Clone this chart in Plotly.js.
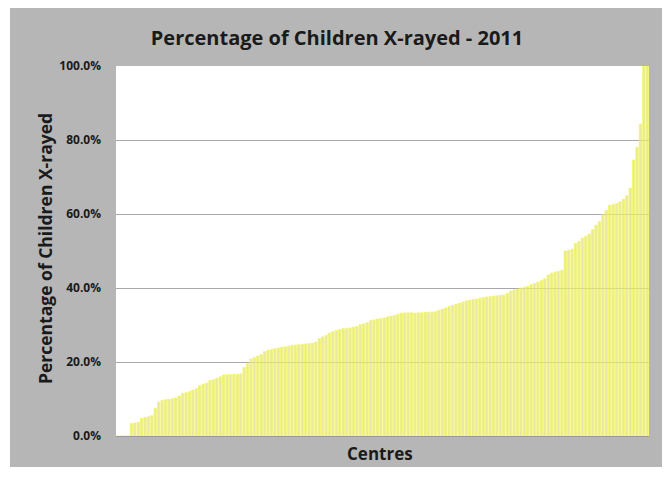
<!DOCTYPE html>
<html>
<head>
<meta charset="utf-8">
<script src="https://cdn.plot.ly/plotly-3.0.1.min.js"></script>
<style>html,body{margin:0;padding:0;background:#fff;}#chart{width:670px;height:483px;}</style>
</head>
<body>
<div id="chart"></div>
<script>
// Percentage of children X-rayed per centre, sorted ascending
const percentValues = [
  0, 0, 0, 0, 3.4, 3.5, 3.7, 4.8, 5.0, 5.2,
  5.5, 7.5, 9.2, 9.6, 9.8, 9.9, 10.1, 10.3, 10.8, 11.5,
  11.7, 12.0, 12.4, 12.8, 13.6, 14.0, 14.3, 15.0, 15.2, 15.6,
  16.0, 16.5, 16.6, 16.6, 16.7, 16.7, 16.8, 18.5, 19.5, 20.8,
  21.2, 21.6, 22.0, 22.8, 23.2, 23.4, 23.6, 23.8, 24.0, 24.1,
  24.3, 24.5, 24.6, 24.7, 24.8, 24.9, 25.0, 25.1, 25.4, 26.3,
  26.8, 27.2, 27.8, 28.2, 28.5, 28.8, 29.0, 29.1, 29.2, 29.4,
  29.6, 30.1, 30.3, 30.6, 31.2, 31.4, 31.6, 31.7, 31.9, 32.2,
  32.4, 32.6, 32.9, 33.2, 33.3, 33.3, 33.3, 33.2, 33.3, 33.3,
  33.4, 33.5, 33.5, 33.6, 34.0, 34.3, 34.6, 35.0, 35.3, 35.6,
  35.9, 36.2, 36.5, 36.7, 36.9, 37.0, 37.2, 37.4, 37.6, 37.7,
  37.8, 37.9, 38.0, 38.1, 38.5, 39.2, 39.5, 39.7, 40.0, 40.2,
  40.5, 40.9, 41.2, 41.6, 42.0, 42.5, 43.5, 44.0, 44.3, 44.5,
  44.8, 50.0, 50.2, 50.5, 52.0, 52.6, 53.5, 54.0, 54.6, 55.8,
  57.0, 58.0, 59.8, 61.0, 62.4, 62.6, 62.8, 63.3, 64.0, 65.0,
  67.0, 74.6, 78.0, 84.3, 100.0, 100.0
];
const centres = percentValues.map((v, i) => 'Centre ' + (i + 1));
const yTickValues = [0, 20, 40, 60, 80, 100];
const yTickLabels = ['0.0%', '20.0%', '40.0%', '60.0%', '80.0%', '100.0%'];

const chartTitle = 'Percentage of Children X-rayed - 2011';
const yTitle = 'Percentage of Children X-rayed';
const xTitle = 'Centres';

const W = 670, H = 483;
const plotL = 116, plotR = 649, plotT = 66, plotB = 436;
const pw = plotR - plotL, ph = plotB - plotT;
const px = x => (x - plotL) / pw;
const py = y => (plotB - y) / ph;

const trace = {
  type: 'bar',
  x: centres,
  y: percentValues,
  marker: {color: 'rgba(224,228,140,0.78)', line: {color: 'rgba(246,246,80,0.95)', width: 0.7}},
  hoverinfo: 'x+y'
};

const layout = {
  width: W, height: H,
  margin: {l: plotL, r: W - plotR, t: plotT, b: H - plotB, pad: 0},
  paper_bgcolor: '#ffffff',
  plot_bgcolor: '#ffffff',
  showlegend: false,
  bargap: 0.3,
  font: {family: 'Open Sans, sans-serif', color: '#1a1a1a'},
  title: {
    text: '<b>' + chartTitle + '</b>',
    xref: 'container', yref: 'container',
    x: 337 / W, y: 1 - 38 / H, xanchor: 'center', yanchor: 'middle',
    font: {family: 'Open Sans, sans-serif', size: 20, color: '#1a1a1a'}
  },
  xaxis: {
    showticklabels: false, ticks: '', showgrid: false, zeroline: false,
    showline: true, linecolor: '#9a9a9a', linewidth: 1,
    fixedrange: true
  },
  yaxis: {
    range: [0, 100], tickvals: yTickValues, ticktext: yTickLabels,
    showgrid: true, gridcolor: '#a8a8a8', gridwidth: 1,
    zeroline: false, showline: false, ticks: '',
    ticklabelstandoff: 14,
    tickfont: {family: 'Open Sans, sans-serif', size: 12, color: '#1a1a1a', weight: 'bold'},
    fixedrange: true
  },
  shapes: [{
    type: 'rect', xref: 'paper', yref: 'paper', layer: 'below',
    x0: px(10), x1: px(662), y0: py(467), y1: py(8),
    fillcolor: '#b6b6b6', line: {width: 0}
  }, {
    type: 'rect', xref: 'paper', yref: 'paper', layer: 'below',
    x0: 0, x1: 1, y0: 0, y1: 1,
    fillcolor: '#ffffff', line: {width: 0}
  }],
  annotations: [
    {text: '<b>' + yTitle + '</b>', xref: 'paper', yref: 'paper', x: px(45), y: py(249),
     xanchor: 'center', yanchor: 'middle', textangle: -90, showarrow: false,
     font: {family: 'Open Sans, sans-serif', size: 17.5, color: '#1a1a1a'}},
    {text: '<b>' + xTitle + '</b>', xref: 'paper', yref: 'paper', x: px(380), y: py(453),
     xanchor: 'center', yanchor: 'middle', showarrow: false,
     font: {family: 'Open Sans, sans-serif', size: 17, color: '#1a1a1a'}}
  ]
};

Plotly.newPlot('chart', [trace], layout, {displayModeBar: false, staticPlot: true});
</script>
</body>
</html>
